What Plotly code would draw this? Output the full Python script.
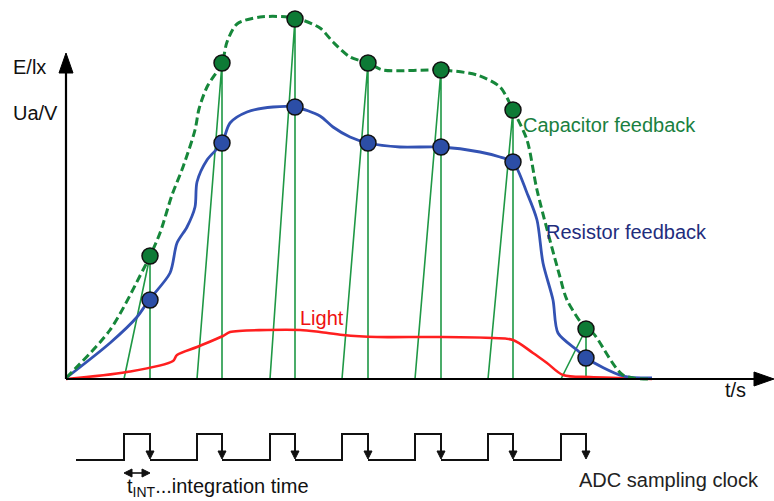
import numpy as np
import plotly.graph_objects as go

# ---------------- data (t in px-like time units, value = height above t axis) ----
cap_t = [0, 44, 77, 84, 94, 106, 117, 129, 133, 141, 156, 161, 171, 194, 229, 254, 267, 284, 302, 317, 375, 411, 434, 447, 461, 471, 494, 501, 520, 527, 557, 584]
cap_v = [1, 49, 109, 123, 146, 184, 212, 249, 270, 292, 316, 337, 355, 362, 361, 351, 337, 322, 316, 309, 309, 304, 292, 269, 239, 189, 102, 79, 50, 46, 4, 0]

res_t = [0, 44, 71, 83, 104, 111, 121, 129, 131, 141, 156, 164, 181, 207, 229, 254, 267, 284, 302, 334, 375, 414, 434, 447, 461, 471, 477, 487, 492, 511, 520, 557, 586]
res_v = [1, 36, 62, 79, 106, 136, 152, 172, 197, 219, 236, 256, 267, 272, 272, 263, 252, 242, 236, 232, 232, 227, 222, 217, 186, 159, 116, 79, 46, 29, 21, 3, 1]

light_t = [0, 61, 107, 111, 131, 157, 164, 201, 234, 254, 277, 311, 367, 427, 447, 467, 481, 497, 524, 557, 586]
light_v = [0, 7, 18, 24, 32, 43, 47, 49, 49, 47, 44, 42, 42, 41, 39, 26, 16, 4, 2, 1, 0]

clock_rise = [58, 131, 204, 276, 349, 422, 495]
clock_fall = [84, 156, 229, 302, 375, 447, 520]   # sampling instants
cap_samples = [123, 316, 360, 316, 309, 269, 50]
res_samples = [79, 236, 272, 236, 232, 217, 21]

# ---------------- layout geometry ----------------
T_MIN, T_MAX = -66, 708
V_MIN, V_MAX = -122, 379
Y_AXIS_TOP = 326
CLK_LOW, CLK_HIGH, CLK_START = -81, -55, 10
TINT_Y = -94

FONT = "Liberation Sans, Arial, sans-serif"
GREEN_LINE = "#16873a"
GREEN_FILL = "#0d7a35"
GREEN_SAMPLE = "#1f9845"
BLUE_LINE = "#3352b3"
BLUE_FILL = "#2c4ea6"
RED = "#ff1f1f"

fig = go.Figure()

# sampling lines: slanted (start of integration) and vertical (sample instant)
for r, f, c in zip(clock_rise, clock_fall, cap_samples):
    fig.add_trace(go.Scatter(x=[r, f, f], y=[0, c, 0], mode="lines",
                             line=dict(color=GREEN_SAMPLE, width=1.6),
                             hoverinfo="skip", showlegend=False))

# curves
fig.add_trace(go.Scatter(x=light_t, y=light_v, mode="lines",
                         line=dict(color=RED, width=2.6, shape="spline", smoothing=0.9),
                         showlegend=False, name="Light"))
fig.add_trace(go.Scatter(x=res_t, y=res_v, mode="lines",
                         line=dict(color=BLUE_LINE, width=2.8, shape="spline", smoothing=0.8),
                         showlegend=False, name="Resistor feedback"))
fig.add_trace(go.Scatter(x=cap_t, y=cap_v, mode="lines",
                         line=dict(color=GREEN_LINE, width=3, dash="8px,4px", shape="spline", smoothing=0.8),
                         showlegend=False, name="Capacitor feedback"))

# sample markers
fig.add_trace(go.Scatter(x=clock_fall, y=res_samples, mode="markers",
                         marker=dict(size=16, color=BLUE_FILL, line=dict(color="#111", width=1.5)),
                         showlegend=False))
fig.add_trace(go.Scatter(x=clock_fall, y=cap_samples, mode="markers",
                         marker=dict(size=16, color=GREEN_FILL, line=dict(color="#111", width=1.5)),
                         showlegend=False))

# axes
fig.add_trace(go.Scatter(x=[0, 0, None, 0, T_MAX - 12], y=[0, Y_AXIS_TOP - 18, None, 0, 0],
                         mode="lines", line=dict(color="black", width=2.2),
                         hoverinfo="skip", showlegend=False))
fig.add_trace(go.Scatter(x=[-7, 7, 0, -7], y=[Y_AXIS_TOP - 20, Y_AXIS_TOP - 20, Y_AXIS_TOP, Y_AXIS_TOP - 20],
                         mode="lines", fill="toself", fillcolor="black",
                         line=dict(color="black", width=1), hoverinfo="skip", showlegend=False))
fig.add_trace(go.Scatter(x=[T_MAX - 20, T_MAX - 20, T_MAX, T_MAX - 20], y=[7, -7, 0, 7],
                         mode="lines", fill="toself", fillcolor="black",
                         line=dict(color="black", width=1), hoverinfo="skip", showlegend=False))

# ADC clock
cx, cy = [CLK_START], [CLK_LOW]
for r, f in zip(clock_rise, clock_fall):
    cx += [r, r, f, f]
    cy += [CLK_LOW, CLK_HIGH, CLK_HIGH, CLK_LOW + 6]
    cx += [None, f]
    cy += [None, CLK_LOW]
fig.add_trace(go.Scatter(x=cx[:-2], y=cy[:-2], mode="lines", line=dict(color="#111", width=2),
                         hoverinfo="skip", showlegend=False, connectgaps=False))
# baseline segments between pulses
bx, by = [], []
for f, r in zip(clock_fall[:-1], clock_rise[1:]):
    bx += [f, r, None]
    by += [CLK_LOW, CLK_LOW, None]
fig.add_trace(go.Scatter(x=bx, y=by, mode="lines", line=dict(color="#111", width=2),
                         hoverinfo="skip", showlegend=False))
# falling-edge arrowheads
ax, ay = [], []
for f in clock_fall:
    ax += [f - 4, f + 4, f, f - 4, None]
    ay += [CLK_LOW + 9, CLK_LOW + 9, CLK_LOW + 1, CLK_LOW + 9, None]
fig.add_trace(go.Scatter(x=ax, y=ay, mode="lines", fill="toself", fillcolor="#111",
                         line=dict(color="#111", width=1), hoverinfo="skip", showlegend=False))

# t_INT double arrow
r0, f0 = clock_rise[0], clock_fall[0]
fig.add_trace(go.Scatter(x=[r0 + 3, f0 - 3], y=[TINT_Y, TINT_Y], mode="lines",
                         line=dict(color="#111", width=1.6), hoverinfo="skip", showlegend=False))
fig.add_trace(go.Scatter(x=[r0, r0 + 8, r0 + 8, r0, None, f0, f0 - 8, f0 - 8, f0],
                         y=[TINT_Y, TINT_Y + 4, TINT_Y - 4, TINT_Y, None, TINT_Y, TINT_Y + 4, TINT_Y - 4, TINT_Y],
                         mode="lines", fill="toself", fillcolor="#111",
                         line=dict(color="#111", width=1), hoverinfo="skip", showlegend=False))

# text labels
def label(x, y, text, color, xanchor="left", yanchor="middle", size=20):
    fig.add_annotation(x=x, y=y, text=text, showarrow=False, xanchor=xanchor, yanchor=yanchor,
                       font=dict(family=FONT, size=size, color=color))

label(-55, 312, "E/lx", "#111")
label(-55, 266, "Ua/V", "#111")
label(657, -11, "t/s", "#111")
label(232, 61, "Light", "#ee1111")
label(455, 254, "Capacitor feedback", "#1a8040")
label(478, 147, "Resistor feedback", "#1f2d7d")
label(511, -101, "ADC sampling clock", "#222")
label(59, -108, "t<sub>INT</sub>...integration time", "#111")

fig.update_layout(
    width=774, height=501, autosize=False,
    margin=dict(l=0, r=0, t=0, b=0),
    paper_bgcolor="white", plot_bgcolor="white",
    xaxis=dict(range=[T_MIN, T_MAX], visible=False, fixedrange=True),
    yaxis=dict(range=[V_MIN, V_MAX], visible=False, fixedrange=True),
    showlegend=False,
)

fig.write_html("out.html")
